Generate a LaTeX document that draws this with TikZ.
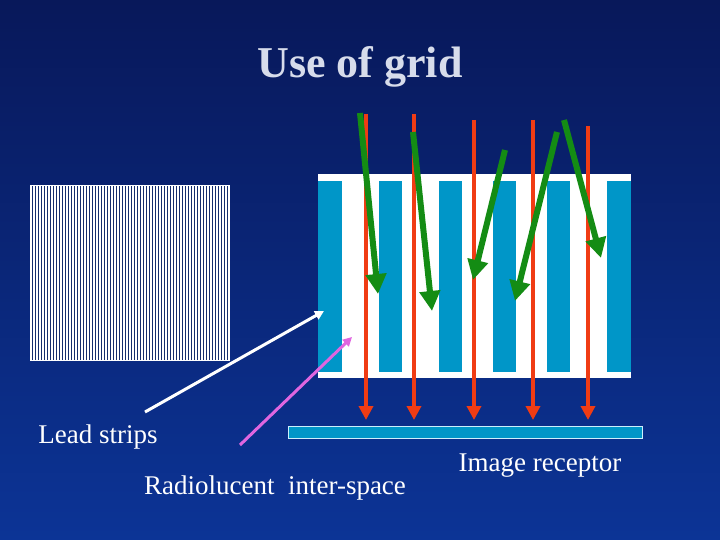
\documentclass[tikz,border=0pt]{standalone}
\usepackage{fontspec}
\setmainfont{Liberation Serif}
\usetikzlibrary{arrows.meta}
\definecolor{stripc}{RGB}{0,150,200}
\definecolor{redc}{RGB}{240,60,20}
\definecolor{greenc}{RGB}{20,140,20}
\begin{document}
\begin{tikzpicture}[x=1pt,y=-1pt,
  red arrow/.style={draw=redc, line width=4pt, -{Triangle[length=14pt,width=14pt]}},
  green arrow/.style={draw=greenc, line width=6pt, -{Triangle[length=20pt,width=20pt]}},
  lbl/.style={text=white, font=\fontsize{27}{30}\selectfont, inner sep=0pt}]
\shade[top color={rgb,255:red,8;green,24;blue,90}, bottom color={rgb,255:red,12;green,52;blue,150}] (0,0) rectangle (720,540);
\useasboundingbox (0,0) rectangle (720,540);
\node (title) [text={rgb,255:red,215;green,220;blue,235}, font=\bfseries\fontsize{44}{48}\selectfont] at (360,67) {Use of grid};
% left pattern
\node (pattern) [draw=white, fill={rgb,255:red,20;green,45;blue,110}, line width=1pt, minimum width=199pt, minimum height=174pt, inner sep=0pt] at (129.5,273) {};
\foreach \i in {0,...,66} \draw[white, line width=1.5pt] (31+\i*3,186) -- (31+\i*3,360);
% grid
\node (grid) [fill=white, minimum width=313pt, minimum height=204pt, inner sep=0pt] at (474.5,276) {};
\foreach \a/\b in {318/342,379/402,439/462,493/516,547/570,607/631}
  \fill[stripc] (\a,181) rectangle (\b,372);
% receptor
\node (receptor) [fill=stripc, draw=white!80!cyan, line width=1pt, minimum width=354pt, minimum height=12pt, inner sep=0pt] at (465,432) {};
% red arrows
\foreach \x/\t [count=\k] in {366/114,414/114,474/120,533/120,588/126} {
  \coordinate (r\k a) at (\x,\t); \coordinate (r\k b) at (\x,420);
  \draw[red arrow] (r\k a) -- (r\k b);
}
% green arrows
\foreach \xa/\ya/\xb/\yb [count=\k] in {360/113/378/294, 413/132/432/311, 505/150/473/280, 557/132/515/301, 564/120/601/258} {
  \coordinate (g\k a) at (\xa,\ya); \coordinate (g\k b) at (\xb,\yb);
  \draw[green arrow] (g\k a) -- (g\k b);
}
% labels
\node (lead) [lbl] at (98,437) {Lead strips};
\node (radio) [lbl] at (275,488) {Radiolucent\ \ inter-space};
\node (image) [lbl] at (540,466) {Image receptor};
\coordinate (wa) at (145,412); \coordinate (wb) at (324,311);
\draw[white, line width=3pt, -{Triangle[length=9pt,width=9pt]}] (wa) -- (wb);
\coordinate (pa) at (240,445); \coordinate (pb) at (352,337);
\draw[violet!40!magenta!60, line width=3pt, -{Triangle[length=9pt,width=9pt]}] (pa) -- (pb);
\end{tikzpicture}
\end{document}
